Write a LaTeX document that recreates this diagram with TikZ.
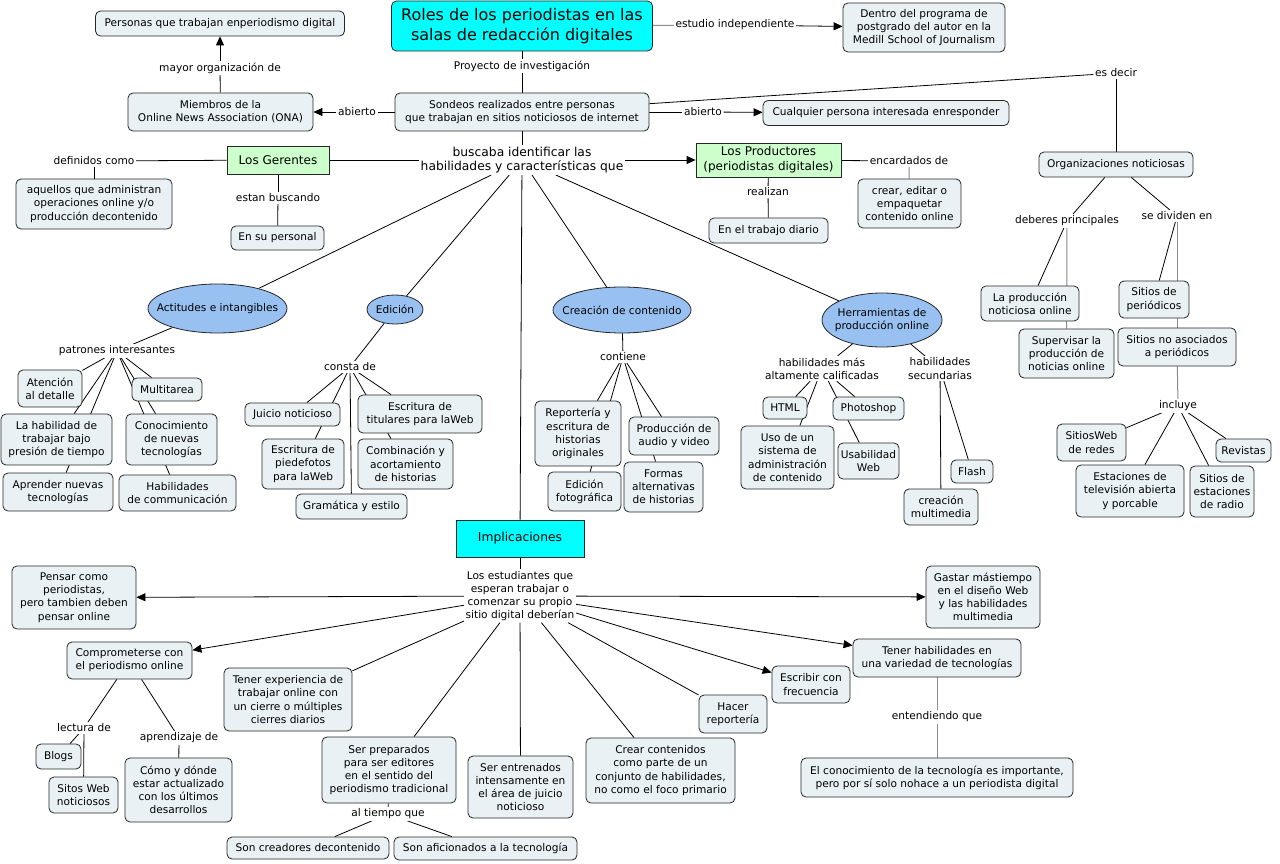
\documentclass[tikz,border=0pt]{standalone}
\usepackage{fontspec}
\setmainfont{DejaVu Sans}
\usetikzlibrary{shapes.geometric,arrows.meta,backgrounds}
\definecolor{boxfill}{RGB}{233,241,244}
\definecolor{ellblue}{RGB}{152,193,242}
\definecolor{greenfill}{RGB}{204,255,204}
\definecolor{cyanfill}{RGB}{0,255,255}
\tikzset{
  base/.style={align=center, font=\fontsize{10.6}{13.2}\selectfont, inner sep=1pt},
  box/.style={base, draw=black!85, fill=boxfill, rounded corners=5pt, line width=0.8pt},
  ell/.style={base, ellipse, draw=black!85, fill=ellblue, line width=0.8pt, inner xsep=-14pt, inner ysep=0pt},
  greenbox/.style={base, draw=black!85, fill=greenfill, line width=0.8pt, font=\fontsize{12}{14.7}\selectfont},
  cyanbox/.style={base, draw=black!85, fill=cyanfill, line width=0.8pt, font=\fontsize{12.3}{14.7}\selectfont},
  lbl/.style={base, fill=white, inner sep=1.5pt},
  con/.style={line width=0.8pt, black},
  gcon/.style={line width=1pt, black!45},
  arr/.style={con, -{Triangle[length=9pt,width=8pt]}},
}
\begin{document}
\begin{tikzpicture}[x=1pt,y=-1pt]
\useasboundingbox (0,0) rectangle (1280,864);

% ---------- top ----------
\node[box, fill=cyanfill, minimum width=261pt, minimum height=50pt, font=\fontsize{16}{19.3}\selectfont] (title) at (522,26) {Roles de los periodistas en las\\salas de redacción digitales};
\node[box, minimum width=249pt, minimum height=25pt] (personas) at (220,23.5) {Personas que trabajan enperiodismo digital};
\node[box, minimum width=162pt, minimum height=49pt] (dentro) at (924,27.5) {Dentro del programa de\\postgrado del autor en la\\Medill School of Journalism};
\node[box, minimum width=185pt, minimum height=38pt] (miembros) at (220.5,112) {Miembros de la\\Online News Association (ONA)};
\node[box, minimum width=254pt, minimum height=38pt] (sondeos) at (522,112) {Sondeos realizados entre personas\\que trabajan en sitios noticiosos de internet};
\node[box, minimum width=246pt, minimum height=25pt] (cualquier) at (886,113) {Cualquier persona interesada enresponder};
\node[greenbox, minimum width=102pt, minimum height=28pt] (gerentes) at (278,160) {Los Gerentes};
\node[greenbox, minimum width=145pt, minimum height=34pt] (productores) at (768.5,160) {Los Productores\\(periodistas digitales)};
\node[box, minimum width=156pt, minimum height=50pt] (aquellos) at (94,204) {aquellos que administran\\operaciones online y/o\\producción decontenido};
\node[box, minimum width=93pt, minimum height=24pt] (personal) at (277.5,238) {En su personal};
\node[box, minimum width=119pt, minimum height=25pt] (diario) at (768.5,230.5) {En el trabajo diario};
\node[box, minimum width=103pt, minimum height=49pt] (crear) at (909.5,203.5) {crear, editar o\\empaquetar\\contenido online};
\node[box, minimum width=154pt, minimum height=25pt] (org) at (1116,164.5) {Organizaciones noticiosas};
\node[box, minimum width=98pt, minimum height=35pt] (laprod) at (1030,303.5) {La producción\\noticiosa online};
\node[box, minimum width=95pt, minimum height=49pt] (superv) at (1066.5,353.5) {Supervisar la\\producción de\\noticias online};
\node[box, minimum width=70pt, minimum height=37pt] (sperio) at (1154,299.5) {Sitios de\\periódicos};
\node[box, minimum width=118pt, minimum height=38pt] (snoaso) at (1177,347) {Sitios no asociados\\a periódicos};
\node[box, minimum width=69pt, minimum height=37pt] (redes) at (1091.5,442.5) {SitiosWeb\\de redes};
\node[box, minimum width=55pt, minimum height=23pt] (revistas) at (1243.5,450.5) {Revistas};
\node[box, minimum width=108pt, minimum height=52pt] (tele) at (1130,491) {Estaciones de\\televisión abierta\\y porcable};
\node[box, minimum width=64pt, minimum height=51pt] (radio) at (1222,491.5) {Sitios de\\estaciones\\de radio};

% ---------- ellipses ----------
\node[ell, minimum width=120pt, minimum height=54pt] (herr) at (882,320) {Herramientas de\\producción online};
\node[ell, minimum width=139pt, minimum height=49pt] (actit) at (217.5,308.5) {Actitudes e intangibles};
\node[ell, minimum width=56pt, minimum height=29pt] (edic) at (395,309.5) {Edición};
\node[ell, minimum width=138pt, minimum height=46pt] (creac) at (622,310) {Creación de contenido};

% ---------- herramientas children ----------
\node[box, minimum width=44pt, minimum height=22pt] (html) at (785,408) {HTML};
\node[box, minimum width=71pt, minimum height=23pt] (photo) at (868.5,408.5) {Photoshop};
\node[box, minimum width=93pt, minimum height=63pt] (uso) at (787.5,457.5) {Uso de un\\sistema de\\administración\\de contenido};
\node[box, minimum width=61pt, minimum height=36pt] (usab) at (868.5,461) {Usabilidad\\Web};
\node[box, minimum width=42pt, minimum height=23pt] (flash) at (972,471.5) {Flash};
\node[box, minimum width=74pt, minimum height=36pt] (multi) at (941,507) {creación\\multimedia};

% ---------- actitudes children ----------
\node[box, minimum width=64pt, minimum height=37pt] (atenc) at (50,388.5) {Atención\\al detalle};
\node[box, minimum width=70pt, minimum height=23pt] (multit) at (167,389.5) {Multitarea};
\node[box, minimum width=111pt, minimum height=51pt] (lahab) at (56.5,439.5) {La habilidad de\\trabajar bajo\\presión de tiempo};
\node[box, minimum width=91pt, minimum height=51pt] (conoc) at (171.5,439.5) {Conocimiento\\de nuevas\\tecnologías};
\node[box, minimum width=110pt, minimum height=38pt] (aprend) at (58,492) {Aprender nuevas\\tecnologías};
\node[box, minimum width=117pt, minimum height=36pt] (habcom) at (177.5,493) {Habilidades\\de communicación};

% ---------- edicion children ----------
\node[box, minimum width=95pt, minimum height=23pt] (juicio) at (292.5,414.5) {Juicio noticioso};
\node[box, minimum width=124pt, minimum height=38pt] (titul) at (420,414) {Escritura de\\titulares para laWeb};
\node[box, minimum width=82pt, minimum height=50pt] (piede) at (303,464) {Escritura de\\piedefotos\\para laWeb};
\node[box, minimum width=95pt, minimum height=50pt] (combin) at (405.5,464) {Combinación y\\acortamiento\\de historias};
\node[box, minimum width=111pt, minimum height=25pt] (grama) at (351.5,506.5) {Gramática y estilo};

% ---------- creacion children ----------
\node[box, minimum width=86pt, minimum height=65pt] (report) at (578,433.5) {Reportería y\\escritura de\\historias\\originales};
\node[box, minimum width=90pt, minimum height=38pt] (audio) at (674,436) {Producción de\\audio y video};
\node[box, minimum width=73pt, minimum height=39pt] (fotog) at (584.5,491.5) {Edición\\fotográfica};
\node[box, minimum width=79pt, minimum height=50pt] (formas) at (663.5,487) {Formas\\alternativas\\de historias};

% ---------- implicaciones ----------
\node[cyanbox, minimum width=128pt, minimum height=37pt] (impl) at (520,538.5) {Implicaciones};
\node[box, minimum width=124pt, minimum height=63pt] (pensar) at (74,597.5) {Pensar como\\periodistas,\\pero tambien deben\\pensar online};
\node[box, minimum width=114pt, minimum height=62pt] (gastar) at (983,597) {Gastar mástiempo\\en el diseño Web\\y las habilidades\\multimedia};
\node[box, minimum width=125pt, minimum height=37pt] (compr) at (129.5,660.5) {Comprometerse con\\el periodismo online};
\node[box, minimum width=128pt, minimum height=63pt] (tenerexp) at (288,699.5) {Tener experiencia de\\trabajar online con\\un cierre o múltiples\\cierres diarios};
\node[box, minimum width=134pt, minimum height=66pt] (serprep) at (389,770) {Ser preparados\\para ser editores\\en el sentido del\\periodismo tradicional};
\node[box, minimum width=105pt, minimum height=62pt] (serentr) at (520.5,787) {Ser entrenados\\intensamente en\\el área de juicio\\noticioso};
\node[box, minimum width=149pt, minimum height=65pt] (crearc) at (660.5,770.5) {Crear contenidos\\como parte de un\\conjunto de habilidades,\\no como el foco primario};
\node[box, minimum width=68pt, minimum height=38pt] (hacer) at (733,714) {Hacer\\reportería};
\node[box, minimum width=78pt, minimum height=37pt] (escribir) at (811,684.5) {Escribir con\\frecuencia};
\node[box, minimum width=168pt, minimum height=38pt] (tenerhab) at (937,658) {Tener habilidades en\\una variedad de tecnologías};
\node[box, minimum width=272pt, minimum height=39pt] (elcon) at (937,777.5) {El conocimiento de la tecnología es importante,\\pero por sí solo nohace a un periodista digital};
\node[box, minimum width=45pt, minimum height=25pt] (blogs) at (58.5,756.5) {Blogs};
\node[box, minimum width=69pt, minimum height=36pt] (sitos) at (83.5,795) {Sitos Web\\noticiosos};
\node[box, minimum width=107pt, minimum height=64pt] (como) at (178.5,790) {Cómo y dónde\\estar actualizado\\con los últimos\\desarrollos};
\node[box, minimum width=162pt, minimum height=22pt] (creadores) at (308,848) {Son creadores decontenido};
\node[box, minimum width=183pt, minimum height=23pt] (aficion) at (485.5,848.5) {Son aficionados a la tecnología};

% ---------- linking phrases ----------
\node[lbl] (lmayor) at (220,68) {mayor organización de};
\node[lbl] (labierto1) at (357,112) {abierto};
\node[lbl] (lproy) at (522,66) {Proyecto de investigación};
\node[lbl] (lestudio) at (735,25) {estudio independiente};
\node[lbl] (labierto2) at (703,112) {abierto};
\node[lbl] (lesdecir) at (1116,73) {es decir};
\node[lbl, font=\fontsize{12.3}{14.7}\selectfont] (lbusc) at (522,160) {buscaba identificar las\\habilidades y características que};
\node[lbl] (ldef) at (94,161) {definidos como};
\node[lbl] (lestan) at (278,198) {estan buscando};
\node[lbl] (lreal) at (768,192) {realizan};
\node[lbl] (lenc) at (909,161) {encardados de};
\node[lbl] (ldeb) at (1067,221) {deberes principales};
\node[lbl] (ldiv) at (1177,216) {se dividen en};
\node[lbl] (linc) at (1178,406) {incluye};
\node[lbl] (lhabmas) at (822,368.5) {habilidades más\\altamente calificadas};
\node[lbl] (lhabsec) at (940,368.5) {habilidades\\secundarias};
\node[lbl] (lpatr) at (117,351) {patrones interesantes};
\node[lbl] (lconsta) at (350,367) {consta de};
\node[lbl] (lcont) at (623,357) {contiene};
\node[lbl] (lestud) at (520,596) {Los estudiantes que\\esperan trabajar o\\comenzar su propio\\sitio digital deberían};
\node[lbl] (llect) at (84,728) {lectura de};
\node[lbl] (lapren) at (179,738) {aprendizaje de};
\node[lbl] (ltiempo) at (388,814) {al tiempo que};
\node[lbl] (lent) at (937,717) {entendiendo que};

% ---------- connectors ----------
\begin{scope}[on background layer]
\fill[white] (0,0) rectangle (1280,864);
\draw[con] (miembros) -- (lmayor);
\draw[arr] (lmayor) -- (personas);
\draw[con] (sondeos) -- (labierto1);
\draw[arr] (labierto1) -- (miembros);
\draw[con] (title) -- (lproy);
\draw[con] (lproy) -- (sondeos);
\draw[gcon] (title) -- (lestudio);
\draw[arr] (lestudio) -- (dentro);
\draw[con] (sondeos) -- (labierto2);
\draw[arr] (labierto2) -- (cualquier);
\draw[con] (sondeos) -- (lesdecir);
\draw[con] (lesdecir) -- (org);
\draw[con] (sondeos) -- (lbusc);
\draw[con] (lbusc) -- (gerentes);
\draw[con] (gerentes) -- (ldef);
\draw[con] (ldef) -- (aquellos);
\draw[con] (gerentes) -- (lestan);
\draw[con] (lestan) -- (personal);
\draw[arr] (lbusc) -- (productores);
\draw[con] (productores) -- (lreal);
\draw[con] (lreal) -- (diario);
\draw[con] (productores) -- (lenc);
\draw[gcon] (lenc) -- (crear);
\draw[con] (org) -- (ldeb);
\draw[con] (ldeb) -- (laprod);
\draw[gcon] (ldeb) -- (superv);
\draw[con] (org) -- (ldiv);
\draw[con] (ldiv) -- (sperio);
\draw[gcon] (ldiv) -- (snoaso);
\draw[gcon] (snoaso) -- (linc);
\foreach \t in {redes,tele,radio,revistas} \draw[con] (linc) -- (\t);
\foreach \t in {actit,edic,creac,herr,impl} \draw[con] (lbusc) -- (\t);
\draw[con] (actit) -- (lpatr);
\foreach \t in {atenc,lahab,aprend,multit,conoc,habcom} \draw[con] (lpatr) -- (\t);
\draw[con] (edic) -- (lconsta);
\foreach \t in {juicio,piede,grama,titul,combin} \draw[con] (lconsta) -- (\t);
\draw[con] (creac) -- (lcont);
\foreach \t in {report,fotog,audio,formas} \draw[con] (lcont) -- (\t);
\draw[con] (herr) -- (lhabmas);
\foreach \t in {html,uso,photo,usab} \draw[con] (lhabmas) -- (\t);
\draw[con] (herr) -- (lhabsec);
\draw[con] (lhabsec) -- (flash);
\draw[con] (lhabsec) -- (multi);
\draw[con] (impl) -- (lestud);
\foreach \t in {pensar,gastar,compr,escribir,tenerhab} \draw[arr] (lestud) -- (\t);
\foreach \t in {tenerexp,serprep,serentr,crearc,hacer} \draw[con] (lestud) -- (\t);
\draw[con] (compr) -- (llect);
\draw[con] (llect) -- (blogs);
\draw[con] (llect) -- (sitos);
\draw[con] (compr) -- (lapren);
\draw[con] (lapren) -- (como);
\draw[con] (serprep) -- (ltiempo);
\draw[con] (ltiempo) -- (creadores);
\draw[con] (ltiempo) -- (aficion);
\draw[gcon] (tenerhab) -- (lent);
\draw[gcon] (lent) -- (elcon);
\end{scope}
\end{tikzpicture}
\end{document}
